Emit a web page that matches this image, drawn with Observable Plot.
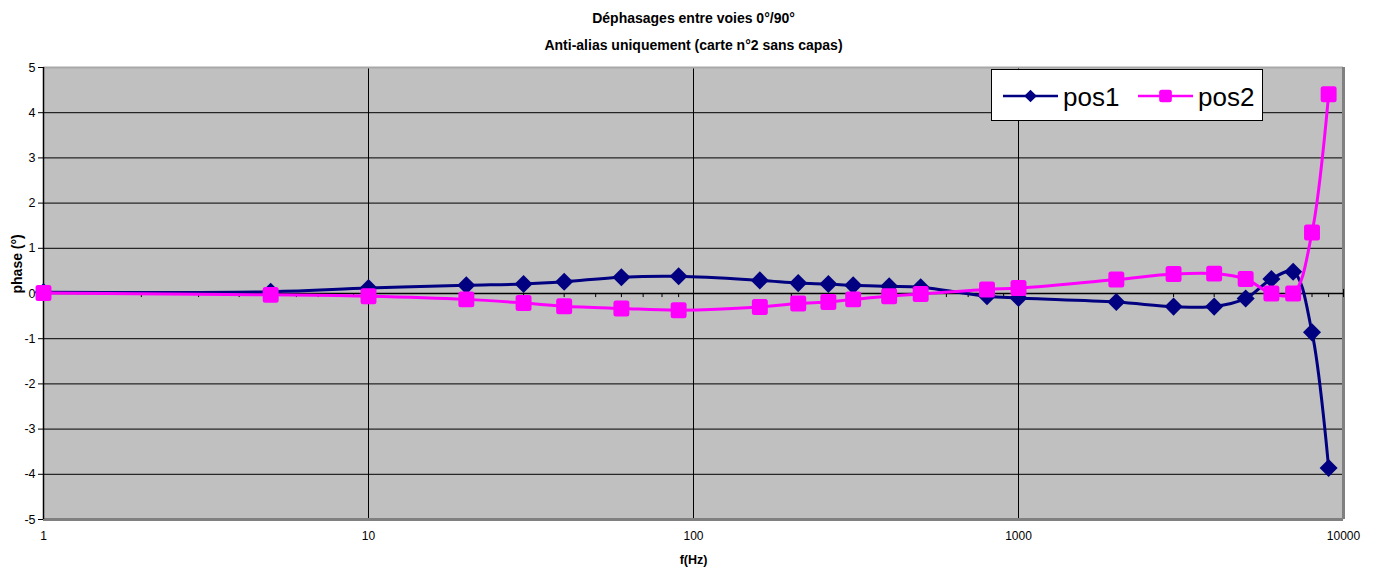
<!DOCTYPE html>
<html>
<head>
<meta charset="utf-8">
<script src="https://cdn.jsdelivr.net/npm/d3@7"></script>
<script src="https://cdn.jsdelivr.net/npm/@observablehq/plot@0.6"></script>
<style>
  html, body { margin: 0; padding: 0; background: #fff; }
  #wrap { position: relative; width: 1379px; height: 570px; font-family: "Liberation Sans", Arial, sans-serif; }
  #legend { position: absolute; left: 991px; top: 69px; width: 270px; height: 50px; border: 1.5px solid #000; background: #fff; }
</style>
</head>
<body>
<div id="wrap"></div>
<script>
// ---- data ----
const titleText = "Déphasages entre voies 0°/90°";
const subtitleText = "Anti-alias uniquement (carte n°2 sans capas)";
const yLabel = "phase (°)";
const xLabel = "f(Hz)";
const seriesNames = ["pos1", "pos2"];
const freq = [1, 5, 10, 20, 30, 40, 60, 90, 160, 210, 260, 310, 400, 500, 800, 1000, 2000, 3000, 4000, 5000, 6000, 7000, 8000, 9000];
const pos1 = [0.03, 0.04, 0.12, 0.18, 0.21, 0.26, 0.36, 0.38, 0.29, 0.23, 0.21, 0.18, 0.16, 0.14, -0.06, -0.10, -0.19, -0.29, -0.29, -0.11, 0.32, 0.48, -0.86, -3.86];
const pos2 = [0.01, -0.03, -0.06, -0.13, -0.21, -0.28, -0.33, -0.37, -0.30, -0.22, -0.19, -0.13, -0.06, -0.01, 0.09, 0.12, 0.31, 0.43, 0.44, 0.32, 0.00, 0.00, 1.35, 4.41];
const xTicks = [1, 10, 100, 1000, 10000];
const yTicks = [-5, -4, -3, -2, -1, 0, 1, 2, 3, 4, 5];
const minorX = [2,3,4,5,6,7,8,9,20,30,40,50,60,70,80,90,200,300,400,500,600,700,800,900,2000,3000,4000,5000,6000,7000,8000,9000];

const colors = {pos1: "#000080", pos2: "#ff00ff"};

const rows1 = freq.map((f, i) => ({f, v: pos1[i]}));
const rows2 = freq.map((f, i) => ({f, v: pos2[i]}));

const diamond = {
  draw(ctx, size) {
    const h = Math.sqrt(size / 2);
    ctx.moveTo(0, -h); ctx.lineTo(h, 0); ctx.lineTo(0, h); ctx.lineTo(-h, 0); ctx.closePath();
  }
};
const roundSquare = {
  draw(ctx, size) {
    const s = Math.sqrt(size) / 2, c = 2.5;
    ctx.moveTo(-s + c, -s);
    ctx.lineTo(s - c, -s); ctx.arcTo(s, -s, s, -s + c, c);
    ctx.lineTo(s, s - c); ctx.arcTo(s, s, s - c, s, c);
    ctx.lineTo(-s + c, s); ctx.arcTo(-s, s, -s, s - c, c);
    ctx.lineTo(-s, -s + c); ctx.arcTo(-s, -s, -s + c, -s, c);
    ctx.closePath();
  }
};

const font = "'Liberation Sans', Arial, sans-serif";

const chart = Plot.plot({
  width: 1379,
  height: 570,
  marginLeft: 43,
  marginRight: 36,
  marginTop: 67,
  marginBottom: 51,
  style: {fontFamily: font, background: "#fff", color: "#000"},
  x: {type: "log", domain: [1, 10000]},
  y: {domain: [-5, 5]},
  marks: [
    Plot.frame({fill: "#c0c0c0", stroke: null}),
    Plot.ruleY(yTicks.slice(1, -1), {stroke: "#000", strokeWidth: 1}),
    Plot.ruleX(xTicks.slice(1, -1), {stroke: "#000", strokeWidth: 1}),
    Plot.ruleY([5], {stroke: "#a8a8a8", strokeWidth: 2}),
    Plot.ruleY([-5], {stroke: "#808080", strokeWidth: 3}),
    Plot.ruleX([10000], {stroke: "#808080", strokeWidth: 3}),
    Plot.ruleX([1], {stroke: "#000", strokeWidth: 1.5}),
    Plot.ruleY([0], {stroke: "#000", strokeWidth: 1.5}),
    Plot.ruleX(minorX, {x: d => d, y1: 0, y2: -0.09, stroke: "#000", strokeWidth: 1}),
    Plot.ruleX([10000], {x: d => d, y1: 0.09, y2: -0.09, stroke: "#000", strokeWidth: 1}),
    Plot.axisY({ticks: yTicks, tickSize: 5, tickPadding: 3, fontSize: 12.5, label: null, tickFormat: d => String(d)}),
    Plot.axisX({ticks: xTicks, tickSize: 0, tickPadding: 12, fontSize: 12, label: null, tickFormat: d => String(d)}),
    Plot.line(rows1, {x: "f", y: "v", stroke: colors.pos1, strokeWidth: 3, curve: "catmull-rom"}),
    Plot.dot(rows1, {x: "f", y: "v", symbol: diamond, r: 7.2, fill: colors.pos1, stroke: null}),
    Plot.line(rows2, {x: "f", y: "v", stroke: colors.pos2, strokeWidth: 3, curve: "catmull-rom"}),
    Plot.dot(rows2, {x: "f", y: "v", symbol: roundSquare, r: 9.0, fill: colors.pos2, stroke: null}),
    Plot.text([titleText], {frameAnchor: "top", lineAnchor: "middle", dy: -49, fontSize: 14, fontWeight: "bold"}),
    Plot.text([subtitleText], {frameAnchor: "top", lineAnchor: "middle", dy: -22, fontSize: 14, fontWeight: "bold"}),
    Plot.text([yLabel], {frameAnchor: "left", dx: -26, rotate: -90, fontSize: 14, fontWeight: "bold"}),
    Plot.text([xLabel], {frameAnchor: "bottom", lineAnchor: "middle", dy: 40, fontSize: 12.5, fontWeight: "bold"})
  ]
});

const wrap = document.getElementById("wrap");
wrap.appendChild(chart);

// legend
const legend = document.createElement("div");
legend.id = "legend";
const lsvg = d3.create("svg").attr("width", 270).attr("height", 50)
  .style("font-family", font);
const items = [
  {name: seriesNames[0], color: colors.pos1, sym: diamond, size: 80, x0: 11},
  {name: seriesNames[1], color: colors.pos2, sym: roundSquare, size: 160, x0: 146}
];
items.forEach(it => {
  const g = lsvg.append("g").attr("transform", `translate(${it.x0},0)`);
  g.append("line").attr("x1", 0).attr("x2", 55).attr("y1", 26).attr("y2", 26)
    .attr("stroke", it.color).attr("stroke-width", 2.5);
  g.append("path").attr("d", d3.symbol(it.sym, it.size)()).attr("transform", "translate(27.5,26)")
    .attr("fill", it.color);
  g.append("text").attr("x", 60).attr("y", 36).attr("font-size", 26).attr("fill", "#000").text(it.name);
});
legend.appendChild(lsvg.node());
wrap.appendChild(legend);
</script>
</body>
</html>
